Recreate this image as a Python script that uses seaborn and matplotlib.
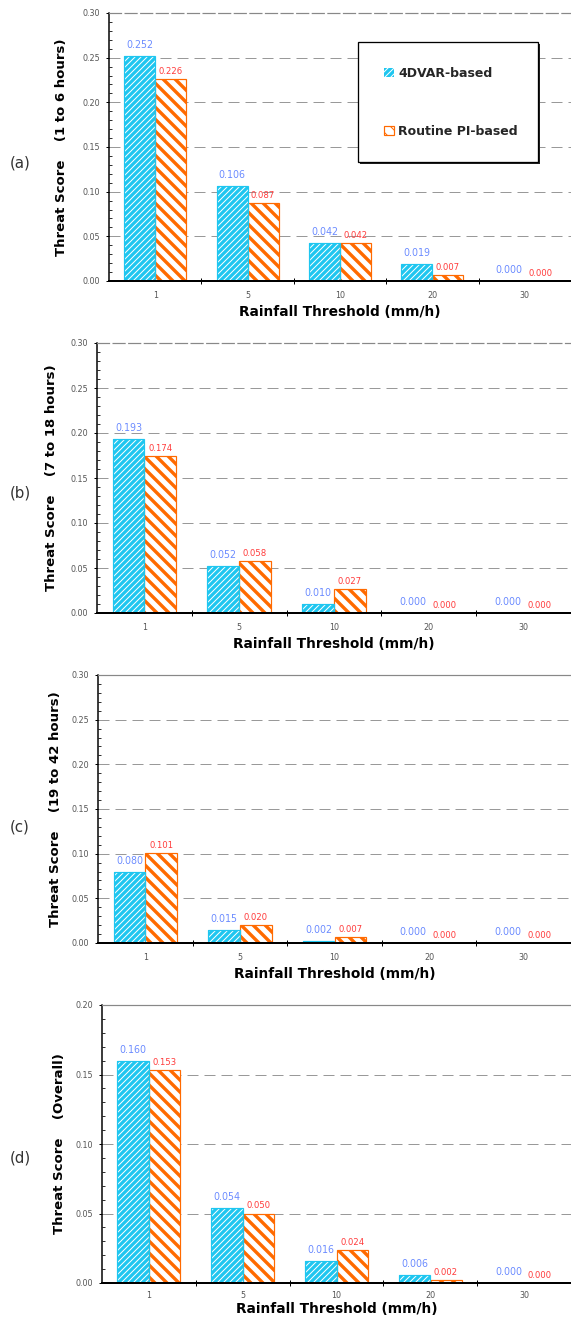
import numpy as np
import pandas as pd
import matplotlib
matplotlib.use("Agg")
import matplotlib.pyplot as plt
import seaborn as sns
from matplotlib.patches import Patch, Rectangle
from matplotlib.ticker import MultipleLocator, FixedLocator, NullFormatter

# ---------------- data ----------------
thresholds = ["1", "5", "10", "20", "30"]
series_names = ["4DVAR-based", "Routine PI-based"]

ts_a_4dvar = [0.252, 0.106, 0.042, 0.019, 0.000]
ts_a_routine = [0.226, 0.087, 0.042, 0.007, 0.000]
ts_b_4dvar = [0.193, 0.052, 0.010, 0.000, 0.000]
ts_b_routine = [0.174, 0.058, 0.027, 0.000, 0.000]
ts_c_4dvar = [0.080, 0.015, 0.002, 0.000, 0.000]
ts_c_routine = [0.101, 0.020, 0.007, 0.000, 0.000]
ts_d_4dvar = [0.160, 0.054, 0.016, 0.006, 0.000]
ts_d_routine = [0.153, 0.050, 0.024, 0.002, 0.000]

panel_letters = ["(a)", "(b)", "(c)", "(d)"]
panel_ylabels = ["Threat Score    (1 to 6 hours)",
                 "Threat Score    (7 to 18 hours)",
                 "Threat Score    (19 to 42 hours)",
                 "Threat Score    (Overall)"]
panel_ymax = [0.30, 0.30, 0.30, 0.20]
xlabel_text = "Rainfall Threshold (mm/h)"

panels_4dvar = [ts_a_4dvar, ts_b_4dvar, ts_c_4dvar, ts_d_4dvar]
panels_routine = [ts_a_routine, ts_b_routine, ts_c_routine, ts_d_routine]

# ---------------- style ----------------
CYAN = "#1EC6F0"
ORANGE = "#FF6A00"
LBL_BLUE = "#6C8CFF"
LBL_RED = "#FF3B3B"
TICK_GRAY = "#555555"

W, H, DPI = 571, 1317, 72
sns.set_style("white")
plt.rcParams["font.family"] = ["DejaVu Sans"]

fig = plt.figure(figsize=(W / DPI, H / DPI), dpi=DPI)

# pixel boxes: left, top, bottom (right = figure edge)
boxes = [(109, 13, 281), (97, 343, 613), (98, 675, 943), (102, 1005, 1283)]
ylabel_x = [61, 52, 56, 60]
letter_y = [163, 493, 827, 1158]
xtick_pad = [10, 10, 10, 8]
xlabel_off = [31, 31, 31, 26]


def set_hlw(p, lw):
    if hasattr(p, "set_hatch_linewidth"):
        p.set_hatch_linewidth(lw)


for i in range(4):
    l, t, b = boxes[i]
    ax = fig.add_axes([l / W, 1 - b / H, (W - l) / W, (b - t) / H])

    df = pd.DataFrame({
        "Threshold": thresholds * 2,
        "Score": list(panels_4dvar[i]) + list(panels_routine[i]),
        "Model": [series_names[0]] * 5 + [series_names[1]] * 5,
    })
    sns.barplot(data=df, x="Threshold", y="Score", hue="Model",
                order=thresholds, hue_order=series_names,
                palette=[CYAN, "white"], width=0.67, gap=0, dodge=True,
                legend=False, ax=ax, zorder=3, err_kws={"linewidth": 0})

    blue_bars = ax.containers[0]
    orange_bars = ax.containers[1]
    for p in blue_bars:
        p.set_facecolor(CYAN)
        p.set_edgecolor("white")
        p.set_linewidth(0)
        p.set_hatch("////")
        set_hlw(p, 1.0)
        if p.get_height() > 0:
            ax.add_patch(Rectangle((p.get_x(), p.get_y()), p.get_width(), p.get_height(),
                                   fill=False, edgecolor=CYAN, linewidth=1.2, zorder=4))
    for p in orange_bars:
        p.set_facecolor("white")
        p.set_edgecolor(ORANGE)
        p.set_linewidth(1.2 if p.get_height() > 0 else 0)
        p.set_hatch("\\\\")
        set_hlw(p, 3.4)

    # value labels
    for p in blue_bars:
        v = p.get_height()
        ax.annotate(f"{v:.3f}", xy=(p.get_x() + p.get_width() / 2, v),
                    xytext=(0, 11), textcoords="offset points",
                    ha="center", va="center", color=LBL_BLUE, fontsize=9.5, zorder=5)
    for p in orange_bars:
        v = p.get_height()
        ax.annotate(f"{v:.3f}", xy=(p.get_x() + p.get_width() / 2, v),
                    xytext=(0, 7.5), textcoords="offset points",
                    ha="center", va="center", color=LBL_RED, fontsize=8.5, zorder=5)

    ymax = panel_ymax[i]
    ax.set_ylim(0, ymax)
    ax.set_xlim(-0.5, 4.5)

    # y ticks
    ax.yaxis.set_major_locator(MultipleLocator(0.05))
    ax.yaxis.set_minor_locator(MultipleLocator(0.01))
    ax.yaxis.set_major_formatter(matplotlib.ticker.FormatStrFormatter("%.2f"))
    ax.tick_params(axis="y", which="major", direction="inout", length=6, width=1,
                   color="black", labelsize=8, labelcolor=TICK_GRAY, pad=6, left=True)
    ax.tick_params(axis="y", which="minor", direction="in", length=3, width=0.8,
                   color="black", left=True)

    # x ticks: labels at centres, marks at group boundaries
    ax.xaxis.set_minor_locator(FixedLocator([0.5, 1.5, 2.5, 3.5]))
    ax.xaxis.set_minor_formatter(NullFormatter())
    ax.tick_params(axis="x", which="major", length=0, labelsize=8,
                   labelcolor=TICK_GRAY, pad=xtick_pad[i], bottom=True)
    ax.tick_params(axis="x", which="minor", direction="inout", length=6, width=1,
                   color="black", bottom=True)

    # grid lines
    for yv in np.arange(0.05, ymax - 1e-9, 0.05):
        ax.axhline(yv, color="#999999", linewidth=1, linestyle=(0, (11, 6)), zorder=1)

    # spines
    ax.spines["right"].set_visible(False)
    ax.spines["left"].set_color("black")
    ax.spines["left"].set_linewidth(1.5)
    ax.spines["bottom"].set_color("black")
    ax.spines["bottom"].set_linewidth(2)
    ax.spines["bottom"].set_zorder(6)
    ax.spines["top"].set_color("#888888")
    ax.spines["top"].set_linewidth(1.2)
    if i < 2:
        ax.spines["top"].set_linestyle((0, (10, 3)))

    # labels
    ax.set_xlabel(xlabel_text, fontsize=13.8, fontweight="bold", color="black")
    ax.xaxis.set_label_coords(0.5, -xlabel_off[i] / (b - t))
    ax.xaxis.label.set_va("center")
    ax.set_ylabel(panel_ylabels[i], fontsize=13.2, fontweight="bold", color="black")
    ax.yaxis.set_label_coords((ylabel_x[i] - l) / (W - l), 0.5)
    ax.yaxis.label.set_va("center")

    fig.text(20 / W, 1 - letter_y[i] / H, panel_letters[i], fontsize=15,
             color="#333333", ha="center", va="center")

    if i == 0:
        # legend box
        x0 = (358 - l) / (W - l)
        x1 = (538 - l) / (W - l)
        y1 = (b - 42) / (b - t)
        y0 = (b - 162) / (b - t)
        ax.add_patch(Rectangle((x0 + 0.004, y0 - 0.008), x1 - x0, y1 - y0,
                               transform=ax.transAxes, facecolor="#222222",
                               edgecolor="none", zorder=7))
        ax.add_patch(Rectangle((x0, y0), x1 - x0, y1 - y0, transform=ax.transAxes,
                               facecolor="white", edgecolor="black", linewidth=1.3,
                               zorder=8))
        h1 = Patch(facecolor=CYAN, edgecolor="white", hatch="////", linewidth=0)
        h2 = Patch(facecolor="white", edgecolor=ORANGE, hatch="\\\\", linewidth=1.2)
        set_hlw(h1, 1.0)
        set_hlw(h2, 3.0)
        leg = ax.legend([h1, h2], series_names, loc="upper left",
                        bbox_to_anchor=((384 - l) / (W - l), (b - 67) / (b - t)),
                        frameon=False, prop={"weight": "bold", "size": 12.5},
                        handlelength=0.8, handleheight=0.8, handletextpad=0.35,
                        labelspacing=3.6, borderpad=0, borderaxespad=0)
        leg.set_zorder(9)

fig.savefig("out.png", dpi=DPI)
